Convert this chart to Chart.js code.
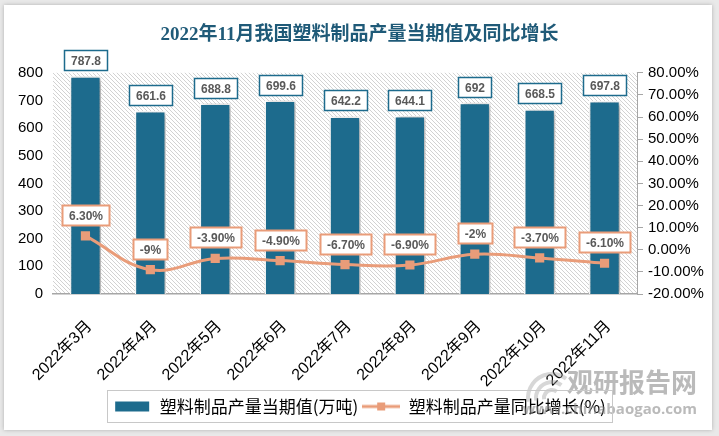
<!DOCTYPE html>
<html>
<head>
<meta charset="utf-8">
<script src="https://cdn.jsdelivr.net/npm/chart.js@4/dist/chart.umd.min.js"></script>
<style>
  html, body { margin: 0; padding: 0; background: #e9e9e9; overflow: hidden; }
  #card { position: absolute; left: 4px; top: 5px; width: 708px; height: 425px; background: #fff; box-shadow: 0 0 4px rgba(0,0,0,0.25); }
  #wrap { position: absolute; left: 0; top: 0; width: 719px; height: 436px; }
</style>
</head>
<body>
<div id="card"></div>
<div id="wrap"><canvas id="c" width="719" height="436"></canvas></div>
<script>
// chart data
const categories = ['2022年3月', '2022年4月', '2022年5月', '2022年6月', '2022年7月', '2022年8月', '2022年9月', '2022年10月', '2022年11月'];
const output = [787.8, 661.6, 688.8, 699.6, 642.2, 644.1, 692, 668.5, 697.8];   // 万吨
const growth = [6.3, -9, -3.9, -4.9, -6.7, -6.9, -2, -3.7, -6.1];              // %
const leftRange = [0, 800, 100];
const rightRange = [-20, 80, 10];

const BAR_COLOR = '#1d6b8d';
const LINE_COLOR = '#e99c79';
const SANS = '"Liberation Sans", "Noto Sans CJK SC", sans-serif';

Chart.defaults.font.family = SANS;

function fmtPct(v) {
  return Number.isInteger(v) ? v + '%' : v.toFixed(2) + '%';
}

// little images for legend symbols
function legendImage(kind) {
  const cv = document.createElement('canvas');
  cv.width = 38; cv.height = 12;
  const g = cv.getContext('2d');
  if (kind === 'bar') {
    g.fillStyle = BAR_COLOR;
    g.fillRect(2, 1, 34, 10);
  } else {
    g.strokeStyle = LINE_COLOR;
    g.lineWidth = 3;
    g.beginPath(); g.moveTo(0, 6); g.lineTo(38, 6); g.stroke();
    g.fillStyle = LINE_COLOR;
    g.fillRect(15, 2, 8, 8);
  }
  return cv;
}
const legendImgs = [legendImage('bar'), legendImage('line')];

function hatchPattern(ctx) {
  const n = 4;
  const p = document.createElement('canvas');
  p.width = n; p.height = n;
  const g = p.getContext('2d');
  g.fillStyle = '#ffffff';
  g.fillRect(0, 0, n, n);
  g.fillStyle = '#d2d2d2';
  for (let i = 0; i < n; i++) g.fillRect(i, i, 1, 1);
  return ctx.createPattern(p, 'repeat');
}

const plotBg = {
  id: 'plotBg',
  beforeDraw(chart) {
    const { ctx, chartArea: a } = chart;
    ctx.save();
    ctx.fillStyle = hatchPattern(ctx);
    ctx.fillRect(a.left, a.top, a.right - a.left, a.bottom - a.top);
    ctx.restore();
  }
};

const barShadow = {
  id: 'barShadow',
  beforeDatasetDraw(chart, args) {
    if (args.meta.type !== 'bar') return;
    const ctx = chart.ctx;
    ctx.save();
    ctx.shadowColor = 'rgba(0,0,0,0.4)';
    ctx.shadowBlur = 5;
    ctx.shadowOffsetX = 2;
    ctx.shadowOffsetY = 1;
  },
  afterDatasetDraw(chart, args) {
    if (args.meta.type !== 'bar') return;
    chart.ctx.restore();
  }
};

function drawTag(ctx, cx, bottom, text, border, lw) {
  ctx.font = 'bold 12px ' + SANS;
  const w = Math.round(ctx.measureText(text).width + 13);
  const h = 20;
  const x = Math.round(cx - w / 2) + 0.5;
  const y = Math.round(bottom - h) + 0.5;
  ctx.fillStyle = '#fff';
  ctx.fillRect(x, y, w, h);
  ctx.strokeStyle = border;
  ctx.lineWidth = lw;
  ctx.strokeRect(x, y, w, h);
  ctx.fillStyle = '#595959';
  ctx.textAlign = 'center';
  ctx.textBaseline = 'middle';
  ctx.fillText(text, x + w / 2, y + h / 2 + 1);
}

const valueTags = {
  id: 'valueTags',
  afterDatasetsDraw(chart) {
    const ctx = chart.ctx;
    ctx.save();
    chart.getDatasetMeta(0).data.forEach((el, i) => {
      drawTag(ctx, el.x, el.y - 6, String(output[i]), BAR_COLOR, 1.5);
    });
    chart.getDatasetMeta(1).data.forEach((el, i) => {
      drawTag(ctx, el.x, el.y - 11, fmtPct(growth[i]), LINE_COLOR, 2);
    });
    ctx.restore();
  }
};

const extras = {
  id: 'extras',
  afterDraw(chart) {
    const ctx = chart.ctx;
    ctx.save();
    // watermark
    ctx.globalAlpha = 0.4;
    ctx.strokeStyle = '#9a9a9a';
    ctx.lineWidth = 4;
    for (let r = 8; r <= 24; r += 8) {
      ctx.beginPath();
      ctx.arc(552, 398, r, Math.PI * 0.95, Math.PI * 1.7);
      ctx.stroke();
    }
    ctx.globalAlpha = 0.6;
    ctx.fillStyle = '#8c8c8c';
    ctx.textAlign = 'right';
    ctx.textBaseline = 'alphabetic';
    ctx.font = 'bold 26px "Noto Sans CJK SC", sans-serif';
    ctx.fillText('观研报告网', 697, 392);
    ctx.font = 'bold 15px "Open Sans", sans-serif';
    ctx.fillText('www.chinabaogao.com', 697, 414);
    ctx.globalAlpha = 1;
    // legend frame
    const hb = chart.legend.legendHitBoxes;
    if (hb && hb.length) {
      const l = Math.min(...hb.map(b => b.left)) - 6;
      const r = Math.max(...hb.map(b => b.left + b.width)) + 6;
      const t = hb[0].top - 8;
      const h = hb[0].height + 15;
      ctx.strokeStyle = '#c8c8c8';
      ctx.lineWidth = 1;
      ctx.strokeRect(Math.round(l) + 0.5, Math.round(t) + 0.5, Math.round(r - l), Math.round(h));
    }
    ctx.restore();
  }
};

new Chart(document.getElementById('c'), {
  data: {
    labels: categories,
    datasets: [
      {
        type: 'bar',
        label: '塑料制品产量当期值(万吨)',
        data: output,
        yAxisID: 'y',
        backgroundColor: BAR_COLOR,
        borderColor: '#ffffff',
        borderWidth: 1.5,
        categoryPercentage: 0.86,
        barPercentage: 0.56,
        order: 2
      },
      {
        type: 'line',
        label: '塑料制品产量同比增长(%)',
        data: growth,
        yAxisID: 'y1',
        borderColor: LINE_COLOR,
        backgroundColor: LINE_COLOR,
        borderWidth: 3,
        tension: 0.4,
        pointStyle: 'rect',
        pointRadius: 6.5,
        pointBorderWidth: 0,
        order: 1
      }
    ]
  },
  options: {
    responsive: false,
    animation: false,
    layout: { padding: { left: 0, right: 0, top: 0, bottom: 11 } },
    plugins: {
      title: {
        display: true,
        text: '2022年11月我国塑料制品产量当期值及同比增长',
        color: '#1f5a78',
        font: { size: 19, weight: 'bold', family: '"Liberation Serif", "Noto Sans CJK SC", serif' },
        padding: { top: 24, bottom: 26 }
      },
      legend: {
        position: 'bottom',
        labels: {
          usePointStyle: true,
          pointStyleWidth: 38,
          padding: 4,
          color: '#000',
          font: { size: 17, family: '"Noto Sans CJK SC", sans-serif' },
          generateLabels: (chart) => chart.data.datasets.map((ds, i) => ({
            text: ds.label,
            pointStyle: legendImgs[i],
            fillStyle: 'transparent',
            strokeStyle: 'transparent',
            lineWidth: 0,
            hidden: false,
            datasetIndex: i,
            fontColor: '#000'
          }))
        }
      },
      tooltip: { enabled: false }
    },
    scales: {
      x: {
        grid: { display: false, drawTicks: false },
        border: { display: true, color: '#a6a6a6', width: 1.5 },
        ticks: { color: '#000', font: { size: 16 }, minRotation: 45, maxRotation: 45, padding: 23, labelOffset: 4 },
        afterFit(s) { s.height = 100; }
      },
      y: {
        position: 'left',
        min: leftRange[0], max: leftRange[1],
        ticks: { stepSize: leftRange[2], color: '#000', font: { size: 15 }, padding: 10 },
        grid: { display: false, drawTicks: false },
        border: { display: false },
        afterFit(s) { s.width = 53; }
      },
      y1: {
        position: 'right',
        min: rightRange[0], max: rightRange[1],
        ticks: { stepSize: rightRange[2], color: '#000', font: { size: 15 }, padding: 5,
                 callback: v => v.toFixed(2) + '%' },
        grid: { drawOnChartArea: false, drawTicks: true, tickLength: 6, color: '#a6a6a6' },
        border: { display: true, color: '#a6a6a6' },
        afterFit(s) { s.width = 82; }
      }
    }
  },
  plugins: [plotBg, barShadow, valueTags, extras]
});
</script>
</body>
</html>
